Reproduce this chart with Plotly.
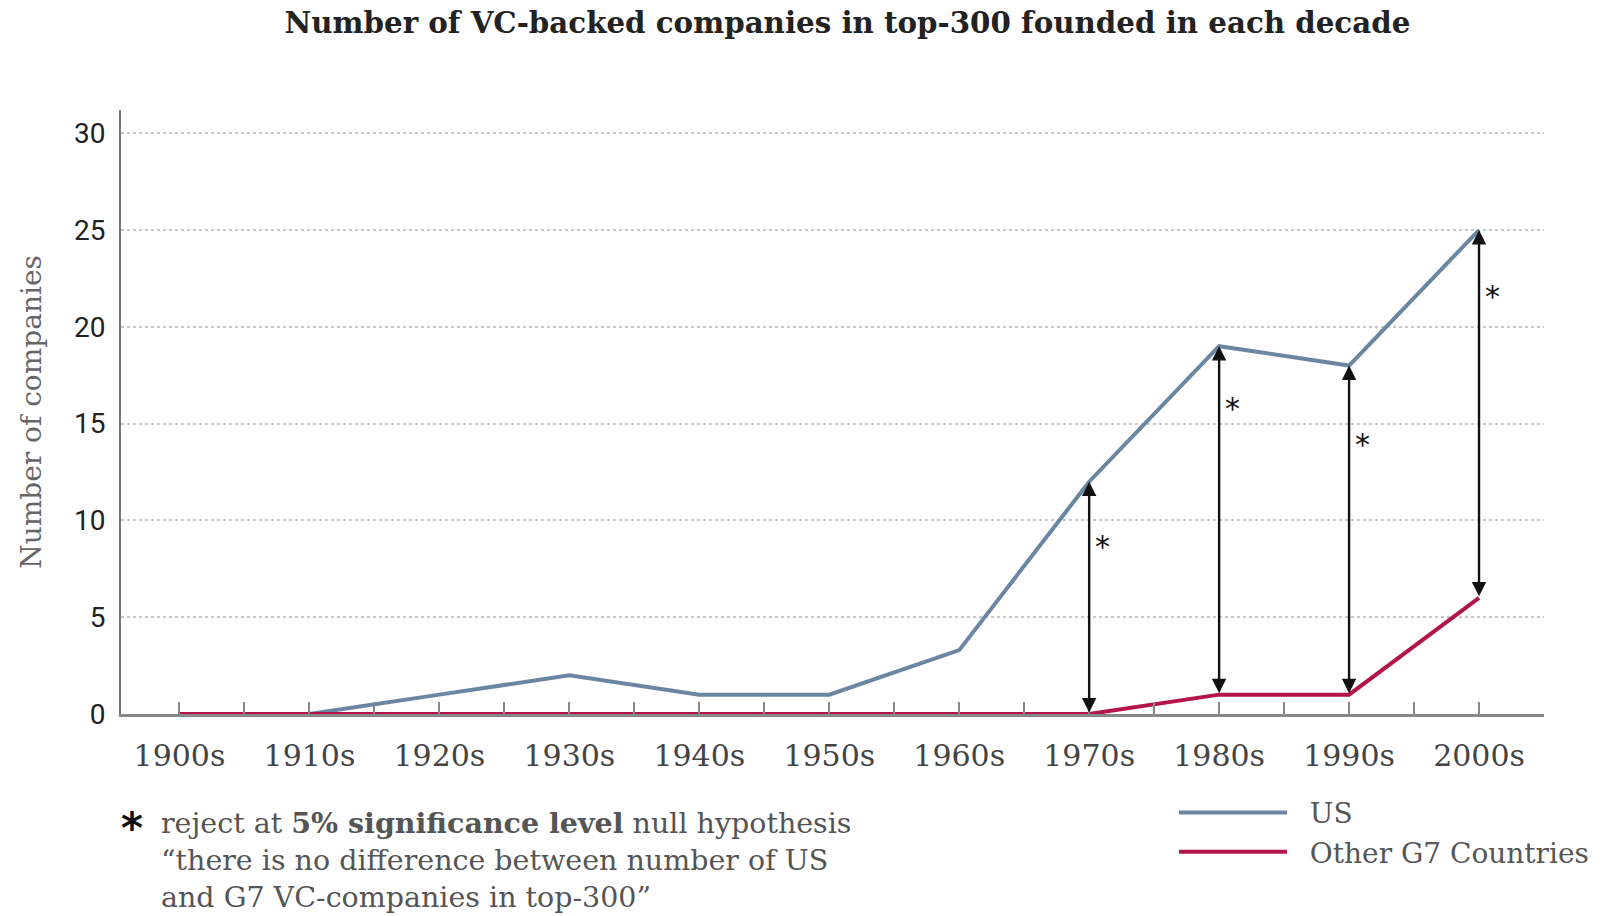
import plotly.graph_objects as go

decades = [1900, 1910, 1920, 1930, 1940, 1950, 1960, 1970, 1980, 1990, 2000]
decade_labels = ["1900s", "1910s", "1920s", "1930s", "1940s", "1950s",
                 "1960s", "1970s", "1980s", "1990s", "2000s"]
us_values = [0, 0, 1, 2, 1, 1, 3.3, 12, 19, 18, 25]
g7_values = [0, 0, 0, 0, 0, 0, 0, 0, 1, 1, 6]
significant_decades = [1970, 1980, 1990, 2000]
y_ticks = [0, 5, 10, 15, 20, 25, 30]

US_COLOR = "#6a86a3"
G7_COLOR = "#b3154a"
SERIF = "DejaVu Serif"
PAD = "\u00a0\u00a0"

fig = go.Figure()
fig.add_trace(go.Scatter(x=decades, y=us_values, mode="lines", name=PAD + "US",
                         line=dict(color=US_COLOR, width=4)))
fig.add_trace(go.Scatter(x=decades, y=g7_values, mode="lines", name=PAD + "Other G7 Countries",
                         line=dict(color=G7_COLOR, width=4)))

star_frac = [0.72, 0.82, 0.76, 0.82]
for i, d in enumerate(significant_decades):
    k = decades.index(d)
    top, bot = us_values[k], g7_values[k]
    fig.add_annotation(x=d, y=top, ax=d, ay=bot, xref="x", yref="y", axref="x", ayref="y",
                       text="", showarrow=True, arrowhead=2, arrowsize=1.2, arrowwidth=2.4,
                       arrowcolor="#111", arrowside="end+start", standoff=0, startstandoff=0)
    fig.add_annotation(x=d, y=bot + star_frac[i] * (top - bot), xref="x", yref="y",
                       text="*", showarrow=False, xshift=13,
                       font=dict(family="DejaVu Sans", size=30, color="#111"))

fig.add_annotation(xref="paper", yref="paper", x=0.008, y=-0.19, xanchor="center", yanchor="middle",
                   text="<b>*</b>", showarrow=False,
                   font=dict(family="DejaVu Sans", size=42, color="#111"))
fig.add_annotation(xref="paper", yref="paper", x=0.027, y=-0.149, xanchor="left", yanchor="top",
                   align="left", showarrow=False,
                   text="reject at <b>5% significance level</b> null hypothesis<br>"
                        "“there is no difference between number of US<br>"
                        "and G7 VC-companies in top-300”",
                   font=dict(family=SERIF, size=28.5, color="#555"))

fig.update_layout(
    width=1611, height=916,
    margin=dict(l=121, r=67, t=110, b=202),
    paper_bgcolor="white", plot_bgcolor="white",
    title=dict(text="<b>Number of VC-backed companies in top-300 founded in each decade</b>",
               x=0.526, xanchor="center", y=0.975, yanchor="middle",
               font=dict(family=SERIF, size=29.3, color="#222")),
    legend=dict(x=0.74, y=-0.122, xanchor="left", yanchor="top", itemwidth=108,
                font=dict(family=SERIF, size=28, color="#555"), tracegroupgap=0,
                bgcolor="rgba(0,0,0,0)"),
    showlegend=True,
)
fig.update_xaxes(range=[1895.5, 2005], tickvals=decades, ticktext=decade_labels,
                 showgrid=False, zeroline=False, showline=True, linecolor="#888", linewidth=2.5,
                 ticks="inside", ticklen=12, tickwidth=2, tickcolor="#888",
                 minor=dict(dtick=5, tick0=1900, ticks="inside", ticklen=12, tickwidth=2,
                            tickcolor="#888", showgrid=False),
                 tickfont=dict(family=SERIF, size=30, color="#444"), ticklabelstandoff=13)
fig.update_yaxes(range=[0, 31.2], tickvals=y_ticks, showgrid=True, gridcolor="#c8c8c8",
                 griddash="dot", gridwidth=2, zeroline=False, showline=True, linecolor="#777",
                 linewidth=2, ticks="", tickfont=dict(family="Roboto", size=28, color="#222"),
                 ticklabelstandoff=8,
                 title=dict(text="Number of companies", standoff=24,
                            font=dict(family=SERIF, size=28, color="#666")))

fig.write_html("out.html")
